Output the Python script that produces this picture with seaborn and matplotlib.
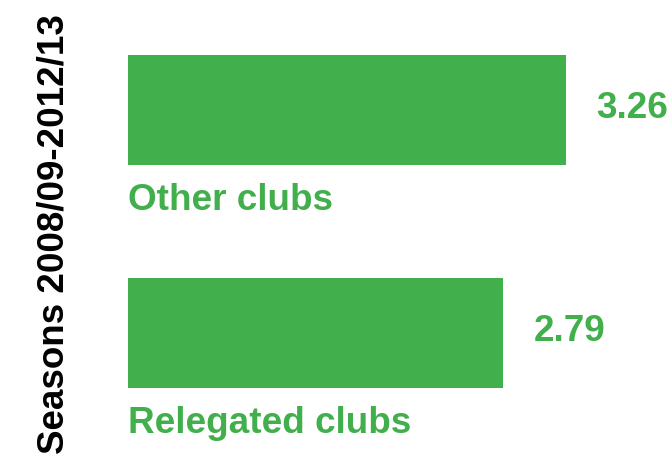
import numpy as np
import pandas as pd
import matplotlib.pyplot as plt
import seaborn as sns

categories = ['Other clubs', 'Relegated clubs']
values = [3.26, 2.79]
ylabel = 'Seasons 2008/09-2012/13'

green = '#41af4b'

sns.set_theme(style='white')
plt.rcParams['font.family'] = ['Liberation Sans', 'DejaVu Sans']

df = pd.DataFrame({'group': categories, 'value': values})

fig = plt.figure(figsize=(6.68, 4.55), dpi=100)
ax = fig.add_axes([128/668, 0, 1-128/668, 1])

sns.barplot(data=df, x='value', y='group', orient='h', color=green,
            saturation=1, width=0.493, linewidth=0, ax=ax)

ax.set_xlim(0, 540/134.5)
ax.set_ylim(1.547, -0.493)
ax.axis('off')

for i, (cat, val) in enumerate(zip(categories, values)):
    ax.text(0, i + 0.404, cat, color=green, fontsize=26.6, fontweight='bold',
            va='center', ha='left')
    ax.annotate('{:.2f}'.format(val), xy=(val, i - 0.005), xytext=(30, 0),
                textcoords='offset pixels', color=green, fontsize=26.6,
                fontweight='bold', va='center', ha='left')

fig.text(54/668, 1-14/455, ylabel, rotation=90, fontsize=26.5,
         fontweight='bold', color='black', ha='center', va='top')

fig.savefig('out.png', dpi=100)
